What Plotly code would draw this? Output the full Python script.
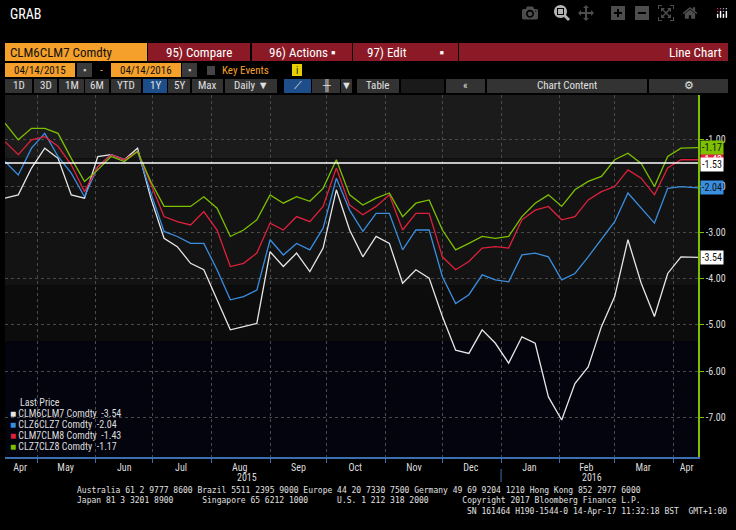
import pandas as pd
import plotly.graph_objects as go

# weekly samples, last point is 04/14/2016
dates = list(pd.date_range("2015-04-14", periods=52, freq="7D").strftime("%Y-%m-%d")) + ["2016-04-14"]

clm6clm7 = [-2.26, -2.19, -1.61, -1.18, -1.40, -2.19, -2.26, -1.36, -1.32, -1.43, -1.18, -2.26, -3.13,
            -3.31, -3.67, -3.81, -4.46, -5.11, -5.04, -4.97, -3.42, -3.74, -3.45, -3.85, -3.34, -2.08,
            -2.95, -3.53, -3.09, -3.24, -4.10, -3.81, -3.99, -4.82, -5.55, -5.62, -5.11, -5.40, -5.83,
            -5.26, -5.40, -6.56, -7.06, -6.27, -5.91, -5.04, -4.39, -3.16, -4.10, -4.82, -3.89, -3.53, -3.54]
clz6clz7 = [-1.47, -1.76, -1.18, -0.86, -1.36, -1.72, -2.23, -1.58, -1.32, -1.43, -1.25, -2.15, -2.98,
            -3.09, -3.24, -3.24, -3.81, -4.46, -4.39, -4.25, -3.16, -3.49, -3.24, -3.38, -2.91, -1.83,
            -2.52, -2.98, -2.59, -2.59, -3.38, -2.95, -2.95, -3.96, -4.54, -4.35, -3.92, -4.03, -4.07,
            -3.49, -3.45, -3.53, -4.03, -3.89, -3.53, -3.16, -2.77, -2.15, -2.48, -2.80, -2.05, -2.01, -2.04]
clm7clm8 = [-1.04, -1.32, -1.00, -0.93, -1.14, -1.54, -2.12, -1.58, -1.32, -1.43, -1.25, -1.97, -2.66,
            -2.77, -2.84, -2.55, -2.95, -3.74, -3.67, -3.45, -2.80, -2.95, -2.66, -2.77, -2.44, -1.61,
            -2.41, -2.62, -2.44, -2.19, -2.95, -2.59, -2.59, -3.53, -3.81, -3.63, -3.34, -3.31, -3.34,
            -2.73, -2.52, -2.44, -2.73, -2.66, -2.30, -2.12, -2.01, -1.65, -1.83, -2.19, -1.61, -1.43, -1.43]
clz7clz8 = [-0.64, -1.00, -0.75, -0.75, -0.86, -1.40, -1.90, -1.65, -1.36, -1.47, -1.25, -1.90, -2.44,
            -2.44, -2.44, -2.23, -2.48, -3.09, -2.95, -2.73, -2.19, -2.37, -2.23, -2.33, -2.05, -1.43,
            -2.19, -2.41, -2.26, -2.15, -2.66, -2.37, -2.30, -2.95, -3.38, -3.24, -3.09, -3.13, -3.09,
            -2.66, -2.37, -2.19, -2.44, -2.08, -1.90, -1.79, -1.43, -1.29, -1.51, -2.01, -1.36, -1.18, -1.17]

names = ["CLM6CLM7 Comdty", "CLZ6CLZ7 Comdty", "CLM7CLM8 Comdty", "CLZ7CLZ8 Comdty"]
series = [clm6clm7, clz6clz7, clm7clm8, clz7clz8]
colors = ["#e6e6e6", "#3a8ee0", "#e0203c", "#7dc000"]
ref_line = -1.53

month_mid = ["2015-04-22", "2015-05-16", "2015-06-16", "2015-07-16", "2015-08-16", "2015-09-16",
             "2015-10-16", "2015-11-16", "2015-12-16", "2016-01-16", "2016-02-15", "2016-03-16", "2016-04-08"]
month_txt = ["Apr", "May", "Jun", "Jul", "Aug", "Sep", "Oct", "Nov", "Dec", "Jan", "Feb", "Mar", "Apr"]
y_ticks = [-1, -2, -3, -4, -5, -6, -7]

# plot area in pixels
L, R, T, B = 5, 698, 95, 457
def px(x):
    return (x - L) / (R - L)
def py(y):
    return (B - y) / (B - T)

fig = go.Figure()
for n, s, c in zip(names, series, colors):
    fig.add_trace(go.Scatter(x=dates, y=s, mode="lines", name=n,
                             line=dict(color=c, width=1.3), showlegend=False))

shapes = []
ann = []
font = "Liberation Sans Narrow, Roboto Condensed, Liberation Sans, sans-serif"

# background bands
for y0, y1, col in [(0, -1.4, "#1b1b1b"), (-1.4, -4.15, "#131313"),
                    (-4.15, -5.35, "#0c0c0c"), (-5.35, -9, "#03040d")]:
    shapes.append(dict(type="rect", xref="paper", yref="y", x0=0, x1=1, y0=y0, y1=y1,
                       fillcolor=col, line_width=0, layer="below"))
shapes.append(dict(type="line", xref="paper", yref="y", x0=0, x1=1, y0=-1.5, y1=-1.5,
                   line=dict(color="#ffffff", width=1.5)))


def box(x0, x1, y0, y1, fill, text="", tcolor="#e0e0e0", align="center", size=11):
    shapes.append(dict(type="rect", xref="paper", yref="paper", x0=px(x0), x1=px(x1),
                       y0=py(y1), y1=py(y0), fillcolor=fill, line_width=0))
    if text:
        if align == "center":
            xx, xa = (x0 + x1) / 2, "center"
        elif align == "left":
            xx, xa = x0 + 3, "left"
        else:
            xx, xa = x1 - 4, "right"
        ann.append(dict(xref="paper", yref="paper", x=px(xx), y=py((y0 + y1) / 2), text=text,
                        showarrow=False, xanchor=xa, yanchor="middle",
                        font=dict(family=font, size=size, color=tcolor)))


def label(x, y, text, color, size=11, xa="left"):
    ann.append(dict(xref="paper", yref="paper", x=px(x), y=py(y), text=text, showarrow=False,
                    xanchor=xa, yanchor="middle", font=dict(family=font, size=size, color=color)))


label(8, 14, "GRAB", "#ffffff", 14)
# row 1
box(5, 147, 43, 61, "#f5a02a", "CLM6CLM7 Comdty", "#111111", "left", 13)
box(148, 250, 43, 61, "#8b1a26", "95) Compare", "#ffffff", size=13)
box(252, 352, 43, 61, "#8b1a26", "96) Actions ▪", "#ffffff", size=13)
box(353, 458, 43, 61, "#8b1a26", "97) Edit           ▪", "#ffffff", size=13)
box(459, 728, 43, 61, "#8b1a26", "Line Chart", "#ffffff", "right", 13)
# row 2
box(5, 75, 63, 77, "#f5a02a", "04/14/2015", "#111111", size=11)
box(77, 92, 63, 77, "#3a3a3a", "▪", "#cccccc", size=9)
label(101, 70, "-", "#f5a02a", 11, "center")
box(111, 181, 63, 77, "#f5a02a", "04/14/2016", "#111111", size=11)
box(182, 197, 63, 77, "#3a3a3a", "▪", "#cccccc", size=9)
box(207, 215, 66, 75, "#444444")
label(220, 70, "Key Events", "#f5a02a", 11)
box(292, 302, 64, 76, "#e8d000", "i", "#111111", size=10)
# row 3
for x0, x1, t, c in [(5, 32, "1D", "#333333"), (34, 57, "3D", "#333333"), (59, 84, "1M", "#333333"),
                     (85, 109, "6M", "#333333"), (111, 141, "YTD", "#333333"), (143, 167, "1Y", "#1e4e8a"),
                     (168, 190, "5Y", "#333333"), (192, 223, "Max", "#333333"), (225, 277, "Daily ▼", "#333333"),
                     (284, 311, "⟋", "#1e4e8a"), (312, 340, "╫", "#333333"), (341, 352, "▼", "#333333"),
                     (357, 399, "Table", "#333333"), (401, 444, "", "#1a1a1a"), (446, 485, "«", "#333333"),
                     (487, 647, "Chart Content", "#333333"), (649, 728, "⚙", "#333333")]:
    box(x0, x1, 79, 93, c, t, "#e0e0e0", size=11)

# right axis end labels
def tag(val, fill, text, tcol):
    ann.append(dict(xref="paper", yref="y", x=1, y=val, xshift=2, text=text, showarrow=False,
                    xanchor="left", yanchor="middle", bgcolor=fill, borderpad=1,
                    font=dict(family=font, size=10, color=tcol)))

tag(clm7clm8[-1], colors[2], "-1.43", "#ffffff")
tag(clz7clz8[-1], colors[3], "-1.17", "#111111")
tag(ref_line, "#ffffff", "-1.53", "#111111")
tag(clz6clz7[-1], colors[1], "-2.04", "#111111")
tag(clm6clm7[-1], "#ffffff", "-3.54", "#111111")

# legend block
label(18, 402, "Last Price", "#dddddd", 10)
for i, (n, s, c) in enumerate(zip(names, series, colors)):
    label(8, 413 + i * 11, f"<span style='color:{c}'>■</span> {n}  {s[-1]:.2f}", "#dddddd", 10)

# year labels and separator
label(247, 477, "2015", "#dddddd", 10, "center")
label(592, 477, "2016", "#dddddd", 10, "center")
shapes.append(dict(type="line", xref="x", yref="paper", x0="2016-01-01", x1="2016-01-01",
                   y0=py(469), y1=py(482), line=dict(color="#3a6fb0", width=1)))

# footer
foot = ["Australia 61 2 9777 8600 Brazil 5511 2395 9000 Europe 44 20 7330 7500 Germany 49 69 9204 1210 Hong Kong 852 2977 6000",
        "Japan 81 3 3201 8900      Singapore 65 6212 1000      U.S. 1 212 318 2000       Copyright 2017 Bloomberg Finance L.P."]
for i, t in enumerate(foot):
    ann.append(dict(xref="paper", yref="paper", x=px(75), y=py(490 + i * 10), text=t, showarrow=False,
                    xanchor="left", yanchor="middle",
                    font=dict(family="DejaVu Sans Mono", size=8, color="#e0e0e0")))
ann.append(dict(xref="paper", yref="paper", x=px(729), y=py(511), showarrow=False, xanchor="right",
                yanchor="middle", text="SN 161464 H190-1544-0 14-Apr-17 11:32:18 BST  GMT+1:00",
                font=dict(family="DejaVu Sans Mono", size=8, color="#e0e0e0")))

fig.update_layout(
    width=736, height=530, margin=dict(l=L, r=736 - R, t=T, b=530 - B),
    paper_bgcolor="#000000", plot_bgcolor="rgba(0,0,0,0)",
    shapes=shapes, annotations=ann, hovermode=False,
    xaxis=dict(range=["2015-04-14", "2016-04-14"], tickvals=month_mid, ticktext=month_txt,
               ticks="", showgrid=False, zeroline=False, showline=True, linecolor="#3a6fb0", linewidth=1.5,
               tickfont=dict(family=font, size=10, color="#dddddd"),
               minor=dict(dtick="M1", tick0="2015-05-01", showgrid=True, gridcolor="#4a4a4a",
                          griddash="dot", ticks="outside", ticklen=4, tickcolor="#3a6fb0")),
    yaxis=dict(range=[-7.86, -0.03], side="right", tickvals=y_ticks,
               ticktext=[f"{v:.2f}" for v in y_ticks], showgrid=True, gridcolor="#4a4a4a",
               griddash="dot", zeroline=False, showline=True, linecolor="#7dc000", linewidth=1.5,
               ticks="outside", ticklen=4, tickcolor="#7dc000",
               tickfont=dict(family=font, size=10, color="#dddddd")),
)

fig.write_html("out.html", post_script="document.body.style.margin='0';document.body.style.background='#000';")
